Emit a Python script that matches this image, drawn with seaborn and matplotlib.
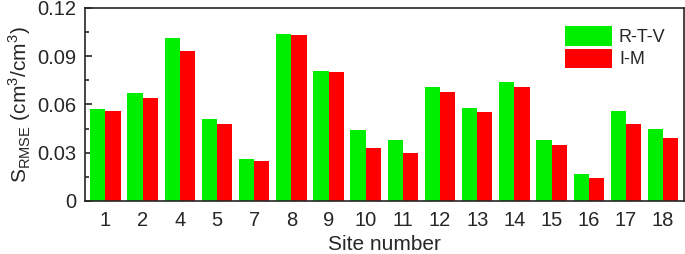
import pandas as pd
import numpy as np
import matplotlib
matplotlib.use('Agg')
import matplotlib.pyplot as plt
import seaborn as sns
from matplotlib.ticker import MultipleLocator

sites = ['1', '2', '4', '5', '7', '8', '9', '10', '11', '12', '13', '14', '15', '16', '17', '18']
rtv = [0.057, 0.067, 0.101, 0.051, 0.026, 0.104, 0.081, 0.044, 0.038, 0.071, 0.058, 0.074, 0.038, 0.017, 0.056, 0.045]
im = [0.056, 0.064, 0.093, 0.048, 0.025, 0.103, 0.080, 0.033, 0.030, 0.068, 0.055, 0.071, 0.035, 0.014, 0.048, 0.039]

df = pd.DataFrame({'site': sites * 2,
                   'value': rtv + im,
                   'method': ['R-T-V'] * len(sites) + ['I-M'] * len(sites)})

sns.set_style('ticks')
plt.rcParams['font.family'] = ['Liberation Sans', 'DejaVu Sans']
plt.rcParams['mathtext.fontset'] = 'custom'
plt.rcParams['mathtext.rm'] = 'Liberation Sans'

fig = plt.figure(figsize=(6.85, 2.54), dpi=100)
ax = fig.add_axes([0.124, 0.209, 0.874, 0.760])
sns.barplot(data=df, x='site', y='value', hue='method', order=sites,
            palette={'R-T-V': '#00ee00', 'I-M': '#ff0000'}, width=0.82,
            saturation=1, edgecolor='none', ax=ax)

ax.set_ylim(0, 0.12)
ax.set_xlim(-0.55, len(sites) - 0.45)
ax.yaxis.set_minor_locator(MultipleLocator(0.015))
ax.set_yticks([0, 0.03, 0.06, 0.09, 0.12])
ax.set_yticklabels(['0', '0.03', '0.06', '0.09', '0.12'])
ax.tick_params(axis='both', which='both', direction='in', labelsize=14.5, width=1.2)
ax.tick_params(axis='both', which='major', length=5)
ax.tick_params(axis='y', which='minor', length=3)
ax.tick_params(axis='x', pad=7)
ax.tick_params(axis='y', pad=6)
for s in ax.spines.values():
    s.set_linewidth(1.2)
    s.set_visible(True)

ax.set_xlabel('Site number', fontsize=15, labelpad=4)
ax.set_ylabel(r'S$_{\mathregular{RMSE}}$ (cm$^{\mathregular{3}}$/cm$^{\mathregular{3}}$)', fontsize=15, labelpad=3)

leg = ax.legend(loc='upper right', frameon=False, fontsize=13, handlelength=2.6,
                handleheight=1.3, handletextpad=0.4, labelspacing=0.15,
                borderaxespad=0.6)

plt.savefig('out.png', dpi=100)
